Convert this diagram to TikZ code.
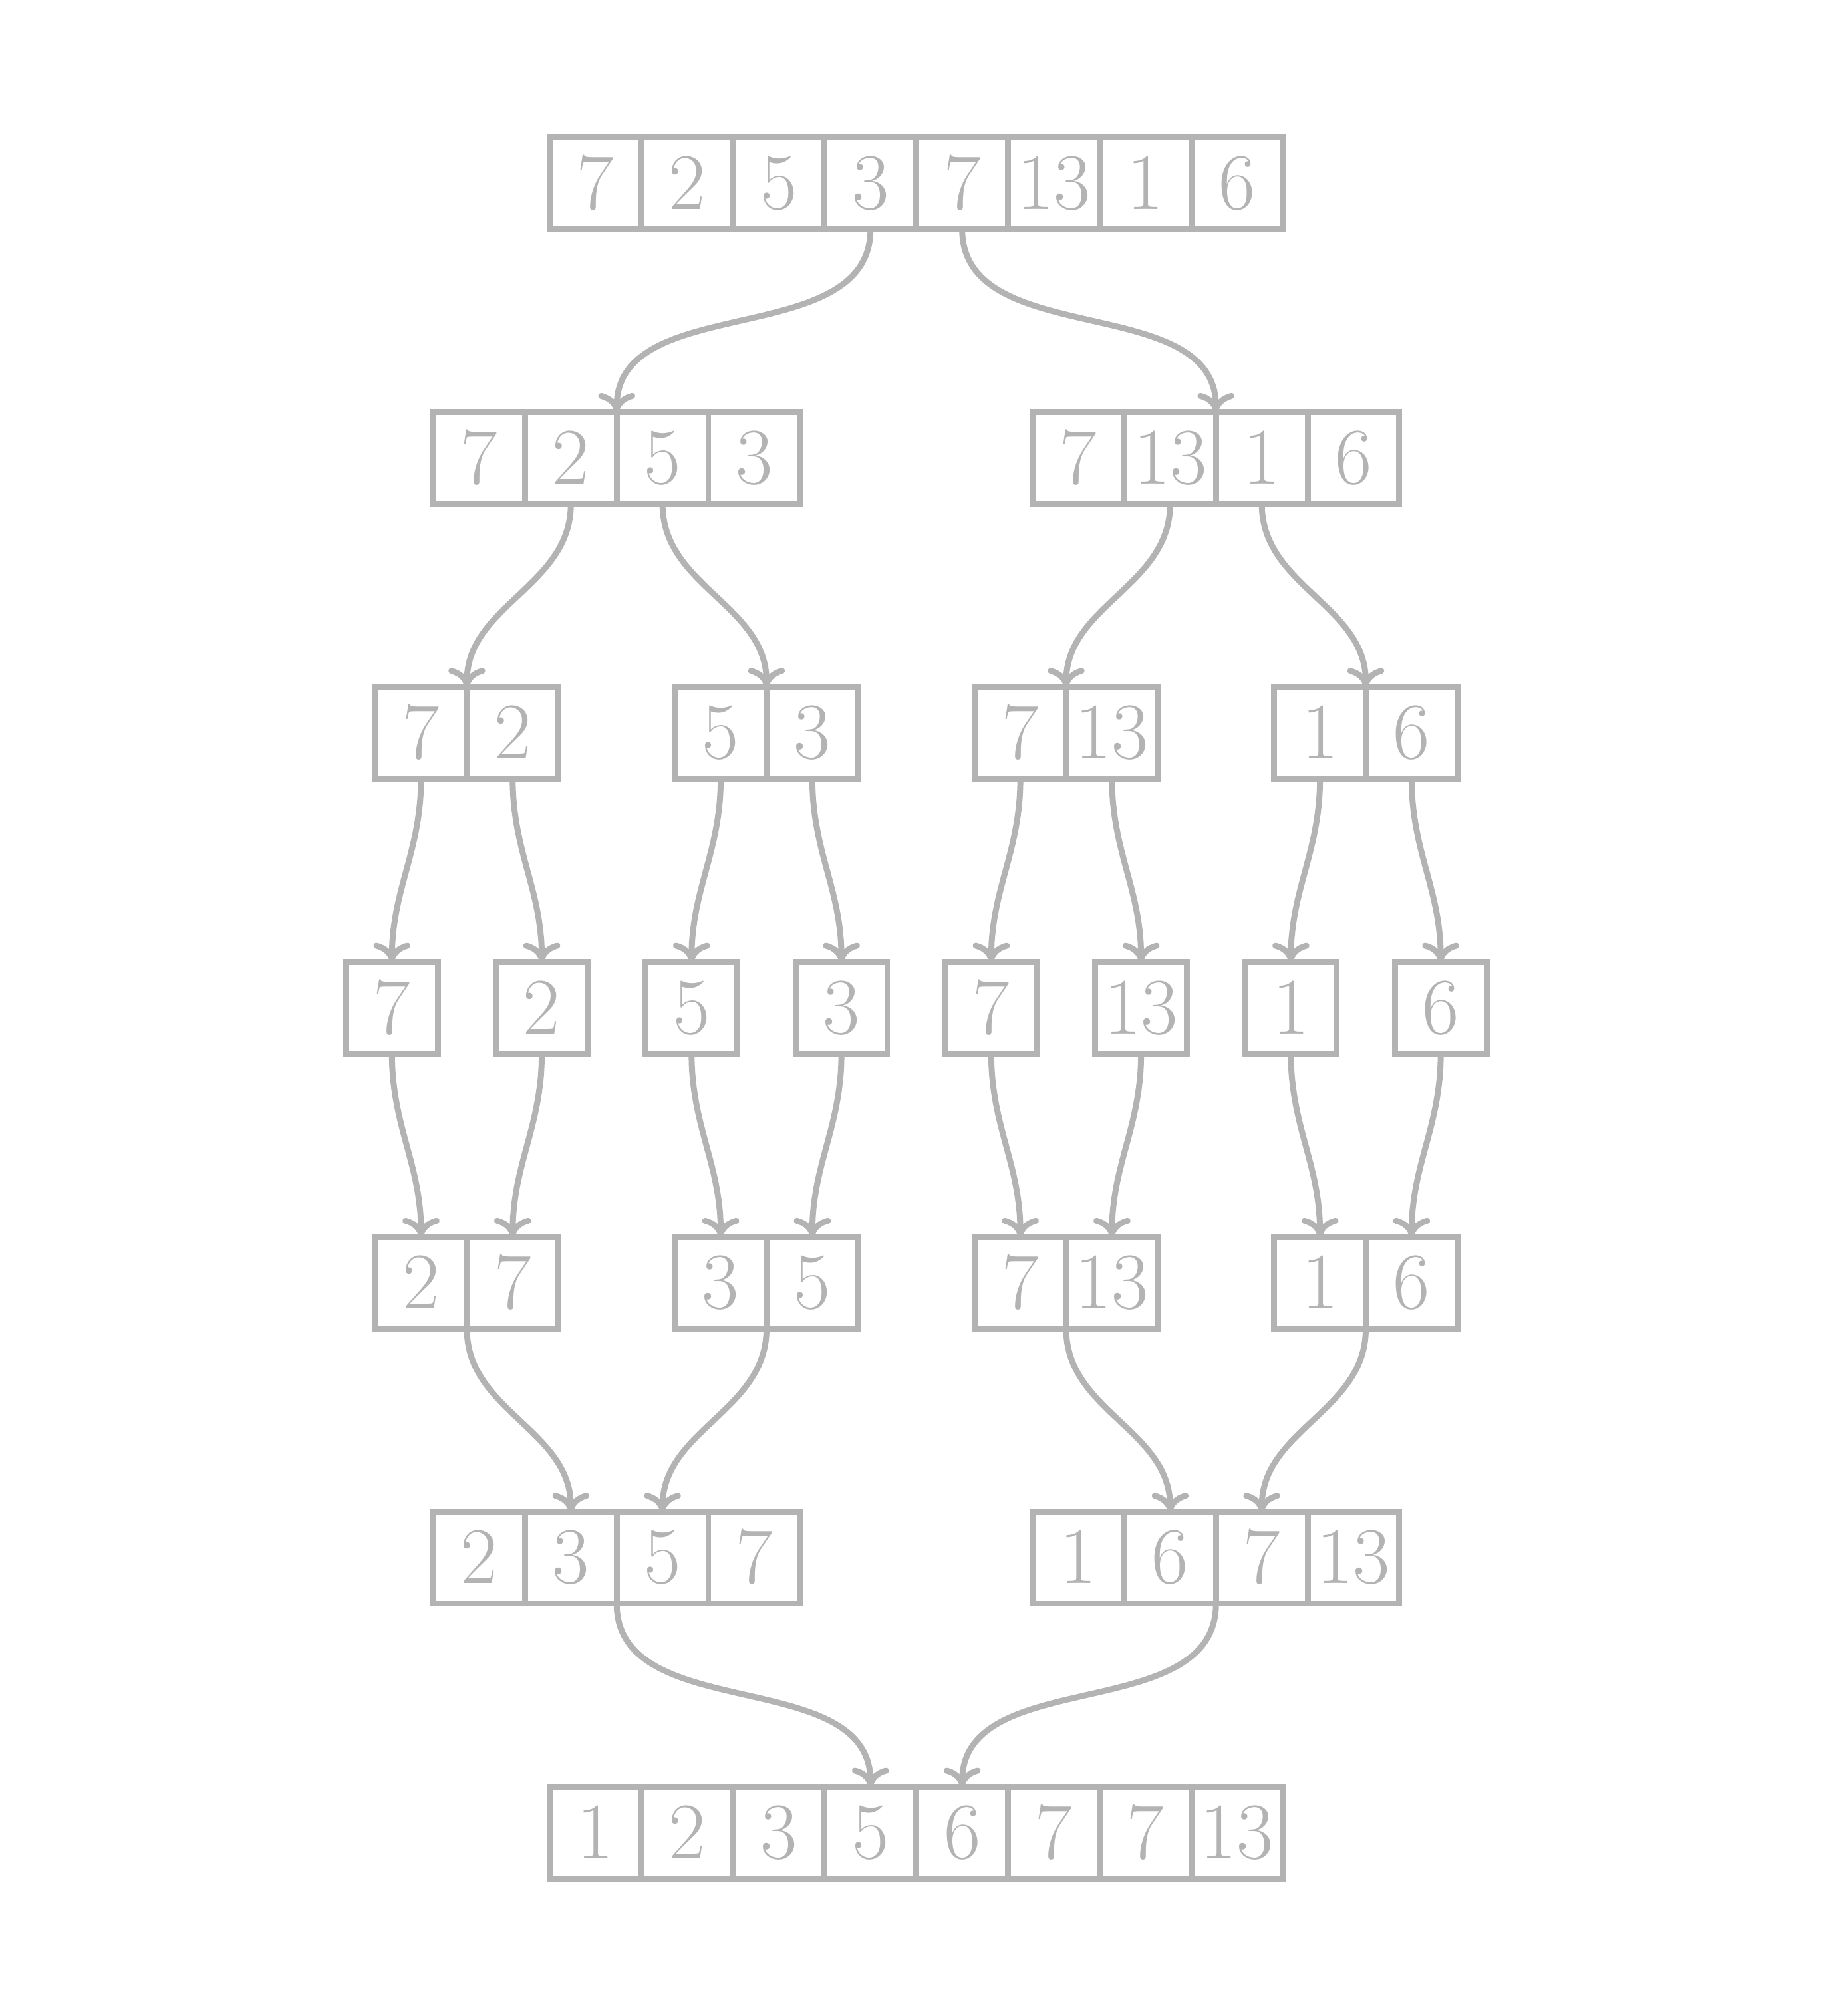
\documentclass[tikz,border=0pt]{standalone}
\usepackage{amsmath}
\usepackage{tikz}
\usetikzlibrary{arrows, arrows.meta, calc}
\usepackage{xcolor}
\definecolor{cinza}{RGB}{179,179,179}
\tikzset{
    celula/.style={draw=cinza, text=cinza, line width=1.85pt, minimum size=1cm,
        inner sep=0pt, outer sep=0pt, font=\Huge},
    seta/.style={-{Computer Modern Rightarrow[length=6pt,width=11.5pt]}, draw=cinza, line width=1.85pt}
}

\begin{document}
\begin{tikzpicture}
    \useasboundingbox (0,0) rectangle (20,22);
    % linhas de celulas
    \foreach \v [count=\i] in {7,2,5,3,7,13,1,6}
        \node[celula] (a\i) at (5.5+\i,20) {$\v$};
    \foreach \v/\x [count=\i] in {7/5.23,2/6.23,5/7.23,3/8.23,7/11.77,13/12.77,1/13.77,6/14.77}
        \node[celula] (b\i) at (\x,17) {$\v$};
    \foreach \v/\x [count=\i] in {7/4.595,2/5.595,5/7.865,3/8.865,7/11.135,13/12.135,1/14.405,6/15.405}
        \node[celula] (c\i) at (\x,14) {$\v$};
    \foreach \v [count=\i] in {7,2,5,3,7,13,1,6}
        \node[celula] (d\i) at ({10+(\i-4.5)*1.635},11) {$\v$};
    \foreach \v/\x [count=\i] in {2/4.595,7/5.595,3/7.865,5/8.865,7/11.135,13/12.135,1/14.405,6/15.405}
        \node[celula] (e\i) at (\x,8) {$\v$};
    \foreach \v/\x [count=\i] in {2/5.23,3/6.23,5/7.23,7/8.23,1/11.77,6/12.77,7/13.77,13/14.77}
        \node[celula] (f\i) at (\x,5) {$\v$};
    \foreach \v [count=\i] in {1,2,3,5,6,7,7,13}
        \node[celula] (g\i) at (5.5+\i,2) {$\v$};

    % divisao
    \draw[seta] (a4.south) to[out=-90,in=90] (b2.north east);
    \draw[seta] (a5.south) to[out=-90,in=90] (b6.north east);
    \foreach \p/\q in {2/1,3/3,6/5,7/7}
        \draw[seta] (b\p.south) to[out=-90,in=90] (c\q.north east);
    \foreach \i in {1,...,8}
        \draw[seta] (c\i.south) to[out=-90,in=90] (d\i.north);

    % intercalacao
    \foreach \i in {1,...,8}
        \draw[seta] (d\i.south) to[out=-90,in=90] (e\i.north);
    \foreach \p/\q in {1/2,3/3,5/6,7/7}
        \draw[seta] (e\p.south east) to[out=-90,in=90] (f\q.north);
    \draw[seta] (f2.south east) to[out=-90,in=90] (g4.north);
    \draw[seta] (f6.south east) to[out=-90,in=90] (g5.north);
\end{tikzpicture}
\end{document}
